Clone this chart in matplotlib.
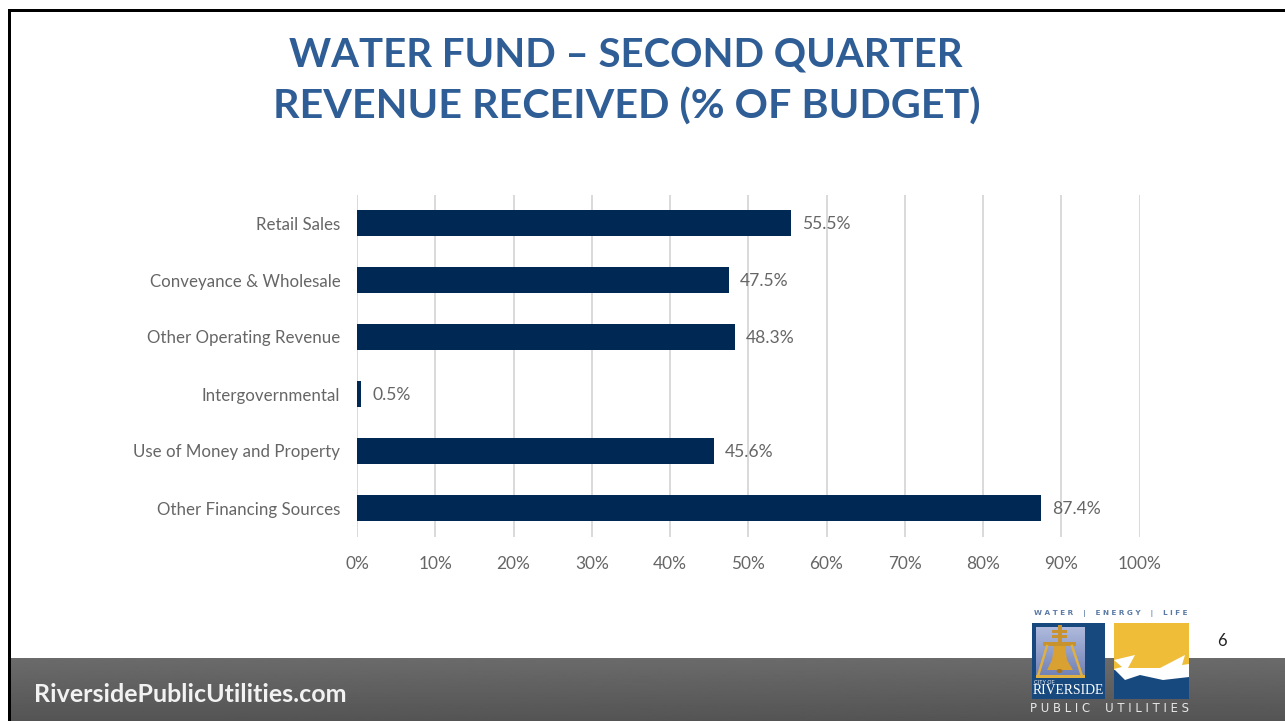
import matplotlib

matplotlib.use("Agg")
import matplotlib.pyplot as plt
import numpy as np
from matplotlib.colors import LinearSegmentedColormap
from matplotlib.patches import Ellipse, Polygon, Rectangle

categories = [
    "Retail Sales",
    "Conveyance & Wholesale",
    "Other Operating Revenue",
    "Intergovernmental",
    "Use of Money and Property",
    "Other Financing Sources",
]
percent_received = [55.5, 47.5, 48.3, 0.5, 45.6, 87.4]
x_ticks = [0, 10, 20, 30, 40, 50, 60, 70, 80, 90, 100]

W, H = 1285, 721
NAVY = "#002855"
LABEL_GREY = "#666666"
TITLE_BLUE = "#2f5d95"
LOGO_BLUE = "#17497f"
GOLD = "#c8922e"

fig = plt.figure(figsize=(W / 100, H / 100), dpi=100, facecolor="white")

# Slide background, in pixel coordinates --------------------------------------
bg = fig.add_axes([0, 0, 1, 1], zorder=0)
bg.set_xlim(0, W)
bg.set_ylim(H, 0)
bg.axis("off")

gradient = np.linspace(0.42, 0.33, 64).reshape(-1, 1)
bg.imshow(gradient, cmap="gray", vmin=0, vmax=1, extent=[10, W, H, 658], aspect="auto")
bg.set_xlim(0, W)
bg.set_ylim(H, 0)
bg.add_patch(Rectangle((8, 9), W - 8, 2.5, color="black", lw=0))
bg.add_patch(Rectangle((8, 9), 2.5, H - 9, color="black", lw=0))

bg.text(626, 55, "WATER FUND – SECOND QUARTER", ha="center", va="center",
        fontsize=28.9, fontweight="bold", family="Lato", color=TITLE_BLUE)
bg.text(627, 107, "REVENUE RECEIVED (% OF BUDGET)", ha="center", va="center",
        fontsize=29.7, fontweight="bold", family="Lato", color=TITLE_BLUE)
bg.text(34, 694, "RiversidePublicUtilities.com", ha="left", va="center",
        fontsize=18, fontweight="bold", family="Lato", color="#f2f2f2")
bg.text(1222, 641, "6", ha="center", va="center", fontsize=12, family="Lato", color="#222222")

# Chart -----------------------------------------------------------------------
ax = fig.add_axes([357 / W, 1 - 536.5 / H, 782.5 / W, 342 / H], zorder=1)
ax.patch.set_alpha(0)
positions = np.arange(len(categories))
ax.barh(positions, percent_received, height=0.44, color=NAVY, zorder=3)
ax.set_xlim(0, 100)
ax.set_ylim(len(categories) - 0.5, -0.5)
ax.set_yticks(positions, categories)
ax.set_xticks(x_ticks, [f"{t}%" for t in x_ticks])
ax.grid(axis="x", color="#d9d9d9", lw=1.4, zorder=0)
ax.set_axisbelow(True)
ax.tick_params(axis="both", length=0, labelcolor=LABEL_GREY)
ax.tick_params(axis="y", pad=12, labelsize=12.2)
ax.tick_params(axis="x", pad=14, labelsize=12.4)
for label in ax.get_xticklabels() + ax.get_yticklabels():
    label.set_family("Lato")
for spine in ax.spines.values():
    spine.set_visible(False)
for pos, value in zip(positions, percent_received):
    ax.annotate(f"{value}%", (value, pos), xytext=(8, -1), textcoords="offset points",
                va="center", ha="left", fontsize=12.6, family="Lato", color=LABEL_GREY)

# Logo, in pixel coordinates --------------------------------------------------
logo = fig.add_axes([0, 0, 1, 1], zorder=2)
logo.set_xlim(0, W)
logo.set_ylim(H, 0)
logo.axis("off")

logo.add_patch(Rectangle((1032, 623), 73, 76, color=LOGO_BLUE, lw=0))
sky = LinearSegmentedColormap.from_list("sky", ["#aeb9dc", "#6f80b4"])
logo.imshow(np.linspace(0, 1, 32).reshape(-1, 1), cmap=sky, extent=[1036, 1085, 678, 627],
            aspect="auto", zorder=1.5)
logo.set_xlim(0, W)
logo.set_ylim(H, 0)
for patch in [
    Rectangle((1057.5, 625), 4, 20, color=GOLD, lw=0),
    Rectangle((1052, 630), 15, 2.5, color=GOLD, lw=0),
    Rectangle((1052, 635), 15, 2.5, color=GOLD, lw=0),
    Rectangle((1043, 642), 33, 4, color=GOLD, lw=0),
    Rectangle((1036, 675), 49, 2.5, color="#e0b040", lw=0),
    Polygon([(1054, 646), (1065, 646), (1067, 660), (1073, 670), (1047, 670), (1052, 660)],
            color="#d9a032", lw=0),
    Ellipse((1059.5, 671), 6, 4, color="#a8741e", lw=0),
]:
    patch.set_zorder(2)
    logo.add_patch(patch)
logo.plot([1047, 1038], [646, 676], color="#e0b040", lw=1.8, zorder=2)
logo.plot([1072, 1082], [646, 676], color="#e0b040", lw=1.8, zorder=2)
logo.text(1034, 683, "CITY OF", fontsize=3.8, color="white", family="Liberation Sans",
          va="center", ha="left", zorder=3)
logo.text(1068, 691, "RIVERSIDE", fontsize=9.9, color="white", family="Liberation Serif",
          va="center", ha="center", zorder=3)

logo.add_patch(Rectangle((1114, 623), 75, 76, color="#f0bd38", lw=0))
logo.add_patch(Rectangle((1114, 670), 75, 29, color=LOGO_BLUE, lw=0))
logo.add_patch(Polygon([(1114, 660), (1135, 655), (1128, 668), (1160, 668), (1185, 655),
                        (1182, 665), (1189, 664), (1189, 677), (1163, 680), (1140, 675),
                        (1125, 680), (1114, 669), (1122, 667)], color="white", lw=0))

logo.text(1111, 613.5, "W A T E R    |    E N E R G Y    |    L I F E", fontsize=5.2,
          fontweight="bold", color="#5a7aa5", family="DejaVu Sans", va="center", ha="center")
logo.text(1110, 708, "P U B L I C    U T I L I T I E S", fontsize=8.4, color="#e8e8e8",
          family="DejaVu Sans", va="center", ha="center")

fig.savefig("out.png", dpi=100)
